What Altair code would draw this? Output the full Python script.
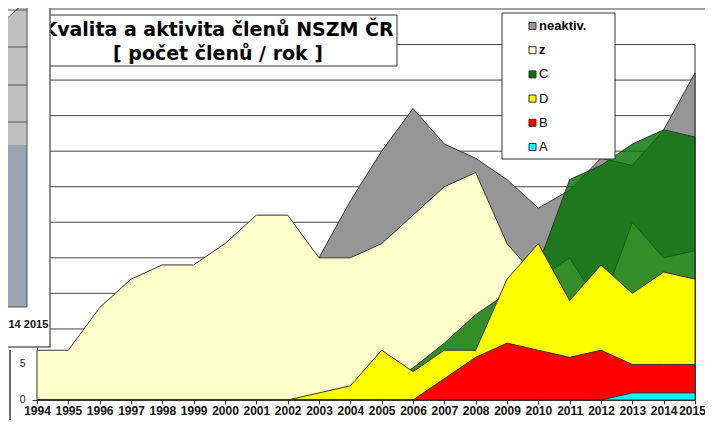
import altair as alt
import pandas as pd

# ---------------- data ----------------
years = list(range(1994, 2016))
series_names = ["neaktiv.", "z", "C", "D", "B", "A"]
series_colors = ["#969696", "#ffffcc", "#007200", "#ffff00", "#ff0000", "#00ffff"]

neaktiv = [0, 0, 0, 0, 0, 0, 0, 0, 0, 20, 28, 35, 41, 36, 34, 31, 27, 29.5, 34, 33, 38, 46]
z_vals = [7, 7, 13, 17, 19, 19, 22, 26, 26, 20, 20, 22, 26, 30, 32, 22, 17, 20, 13, 25, 20, 21]
c_vals = [0, 0, 0, 0, 0, 0, 0, 0, 0, 0, 0, 2, 4.5, 8, 12, 15, 19, 31, 33, 36, 38, 37]
d_vals = [0, 0, 0, 0, 0, 0, 0, 0, 0, 1, 2, 7, 4, 7, 7, 17, 22, 14, 19, 15, 18, 17]
b_vals = [0, 0, 0, 0, 0, 0, 0, 0, 0, 0, 0, 0, 0, 3, 6, 8, 7, 6, 7, 5, 5, 5]
a_vals = [0, 0, 0, 0, 0, 0, 0, 0, 0, 0, 0, 0, 0, 0, 0, 0, 0, 0, 0, 1, 1, 1]

y_ticks = [0, 5, 10, 15, 20, 25, 30, 35, 40, 45, 50, 55]
y_labels_visible = [0, 5]          # the other labels are hidden behind the overlapping window
title_lines = ["Kvalita a aktivita členů NSZM ČR", "[ počet členů / rok ]"]
bold_legend = ["neaktiv.", "z"]
inset_label = "14 2015"

values = dict(zip(series_names, [neaktiv, z_vals, c_vals, d_vals, b_vals, a_vals]))
df = pd.DataFrame(
    [{"year": y, "series": s, "value": v} for s in series_names for y, v in zip(years, values[s])]
)
leg_df = pd.DataFrame({"series": series_names})
dummy = pd.DataFrame({"k": [0]})

W, H = 658, 391

xscale = alt.Scale(domain=[years[0], years[-1]], nice=False, zero=False)
yscale = alt.Scale(domain=[y_ticks[0], y_ticks[-1]], nice=False)
cscale = alt.Scale(domain=series_names, range=series_colors)

xaxis = alt.Axis(values=years, format="d", title=None, grid=False,
                 labelFont="Liberation Sans", labelFontSize=12, labelFontWeight="bold",
                 labelColor="#111", tickColor="#333", tickSize=4, labelPadding=1.5,
                 domainColor="#333", labelFlush=False, labelOverlap=False,
                 labelOffset=alt.condition(f"datum.value == {years[-1]}", alt.value(-3), alt.value(0)),
                 zindex=0)
yaxis = alt.Axis(values=y_ticks, title=None, grid=False, labels=False,
                 tickColor="#333", tickSize=5, domainColor="#333", zindex=0)


def rect(x, x2, y, y2, **kw):
    return alt.Chart(dummy).mark_rect(**kw).encode(
        x=alt.value(x), x2=alt.value(x2), y=alt.value(y), y2=alt.value(y2))


def rule(x, x2, y, y2, **kw):
    return alt.Chart(dummy).mark_rule(**kw).encode(
        x=alt.value(x), x2=alt.value(x2), y=alt.value(y), y2=alt.value(y2))


# gridlines
grid = alt.Chart(pd.DataFrame({"v": y_ticks[1:-1]})).mark_rule(color="#444", strokeWidth=1).encode(
    y=alt.Y("v:Q", scale=yscale, axis=yaxis), x=alt.value(0), x2=alt.value(W))
top_line = alt.Chart(pd.DataFrame({"v": y_ticks[-1:]})).mark_rule(color="#444", strokeWidth=1).encode(
    y=alt.Y("v:Q", scale=yscale, axis=yaxis), x=alt.value(0), x2=alt.value(W + 40))
right_border = alt.Chart(dummy).mark_rule(color="#333", strokeWidth=1).encode(
    x=alt.value(W), y=alt.datum(50), y2=alt.datum(0))
y_text = alt.Chart(pd.DataFrame({"v": y_labels_visible})).mark_text(
    font="Liberation Sans", fontSize=10.5, color="#222", align="right", baseline="middle"
).encode(y=alt.Y("v:Q", scale=yscale, axis=yaxis), x=alt.value(-11.5), text="v:Q")


def area(name):
    op = 0.8 if name == "C" else 1.0
    return alt.Chart(df).transform_filter(alt.datum.series == name).mark_area(
        stroke="#333", strokeWidth=1, fillOpacity=op, interpolate="linear"
    ).encode(
        x=alt.X("year:Q", scale=xscale, axis=xaxis),
        y=alt.Y("value:Q", scale=yscale, axis=yaxis, stack=None),
        color=alt.Color("series:N", scale=cscale, legend=None),
    )


areas = [area(n) for n in series_names]

title_box = rect(2, 360, 6, 57, fill="white", stroke="#333", strokeWidth=1)
t1 = alt.Chart(dummy).mark_text(text=title_lines[0], font="DejaVu Sans", fontSize=19, fontWeight="bold",
                                color="#000", align="center", baseline="alphabetic").encode(
    x=alt.value(181), y=alt.value(27))
t2 = alt.Chart(dummy).mark_text(text=title_lines[1], font="DejaVu Sans", fontSize=19, fontWeight="bold",
                                color="#000", align="center", baseline="alphabetic").encode(
    x=alt.value(181), y=alt.value(51))

main = alt.layer(grid, top_line, right_border, y_text, *areas, title_box, t1, t2)

# legend
leg_y = alt.Y("series:N", scale=alt.Scale(domain=series_names, range=[17, 138], padding=0), axis=None)
leg_box = rect(465, 578, 4, 150, fill="white", stroke="#333", strokeWidth=1)
leg_sq = alt.Chart(leg_df).mark_square(size=49, stroke="#333", strokeWidth=1, opacity=1).encode(
    x=alt.value(495.5), y=leg_y, color=alt.Color("series:N", scale=cscale, legend=None))
leg_txt_b = alt.Chart(leg_df).transform_filter(
    alt.FieldOneOfPredicate(field="series", oneOf=bold_legend)
).mark_text(font="Liberation Sans", fontSize=13, fontWeight="bold", align="left", baseline="middle",
            color="#000").encode(x=alt.value(502), y=leg_y, text="series:N")
leg_txt_r = alt.Chart(leg_df).transform_filter(
    ~alt.FieldOneOfPredicate(field="series", oneOf=bold_legend)
).mark_text(font="Liberation Sans", fontSize=13, align="left", baseline="middle",
            color="#000").encode(x=alt.value(502), y=leg_y, text="series:N")
legend = alt.layer(leg_box, leg_sq, leg_txt_b, leg_txt_r)

# overlapping window at the left
inset_parts = [
    rect(-60, 13, -30, 338, fill="white", stroke="#666", strokeWidth=1.5),
    rect(-60, -10, -30, 136, fill="#c0c0c0"),
    rect(-60, -10, 136, 298, fill="#9ba4b0"),
    alt.Chart(dummy).mark_point(shape="M-1,-1L1,-1L-1,1Z", filled=True, fill="white",
                                opacity=1, size=729).encode(x=alt.value(-23.5), y=alt.value(3.5)),
    rule(-37, -10, 16, -9, color="#555", strokeWidth=1),
]
for yy in [1, 38, 76, 113]:
    inset_parts.append(rule(-60, -10, yy, yy, color="#555", strokeWidth=1))
inset_parts += [
    rule(-10, -10, -30, 298, color="#555", strokeWidth=1),
    rule(-60, -10, 298, 298, color="#555", strokeWidth=1),
    alt.Chart(dummy).mark_text(text=inset_label, font="Liberation Sans", fontSize=11, fontWeight="bold",
                               color="#111", align="left", baseline="alphabetic").encode(
        x=alt.value(-28.5), y=alt.value(319)),
    rule(-27, -27, 341, 440, color="#555", strokeWidth=1.7),
]
inset = alt.layer(*inset_parts)

chart = alt.layer(main, legend, inset).resolve_scale(y="independent").properties(
    width=W, height=H,
    padding={"left": 29, "top": 1, "right": 10, "bottom": 20},
    autosize=alt.AutoSizeParams(type="none"),
    background="white",
).configure_view(strokeWidth=0)

chart.save("out.html", embed_options={"renderer": "svg", "actions": False})
